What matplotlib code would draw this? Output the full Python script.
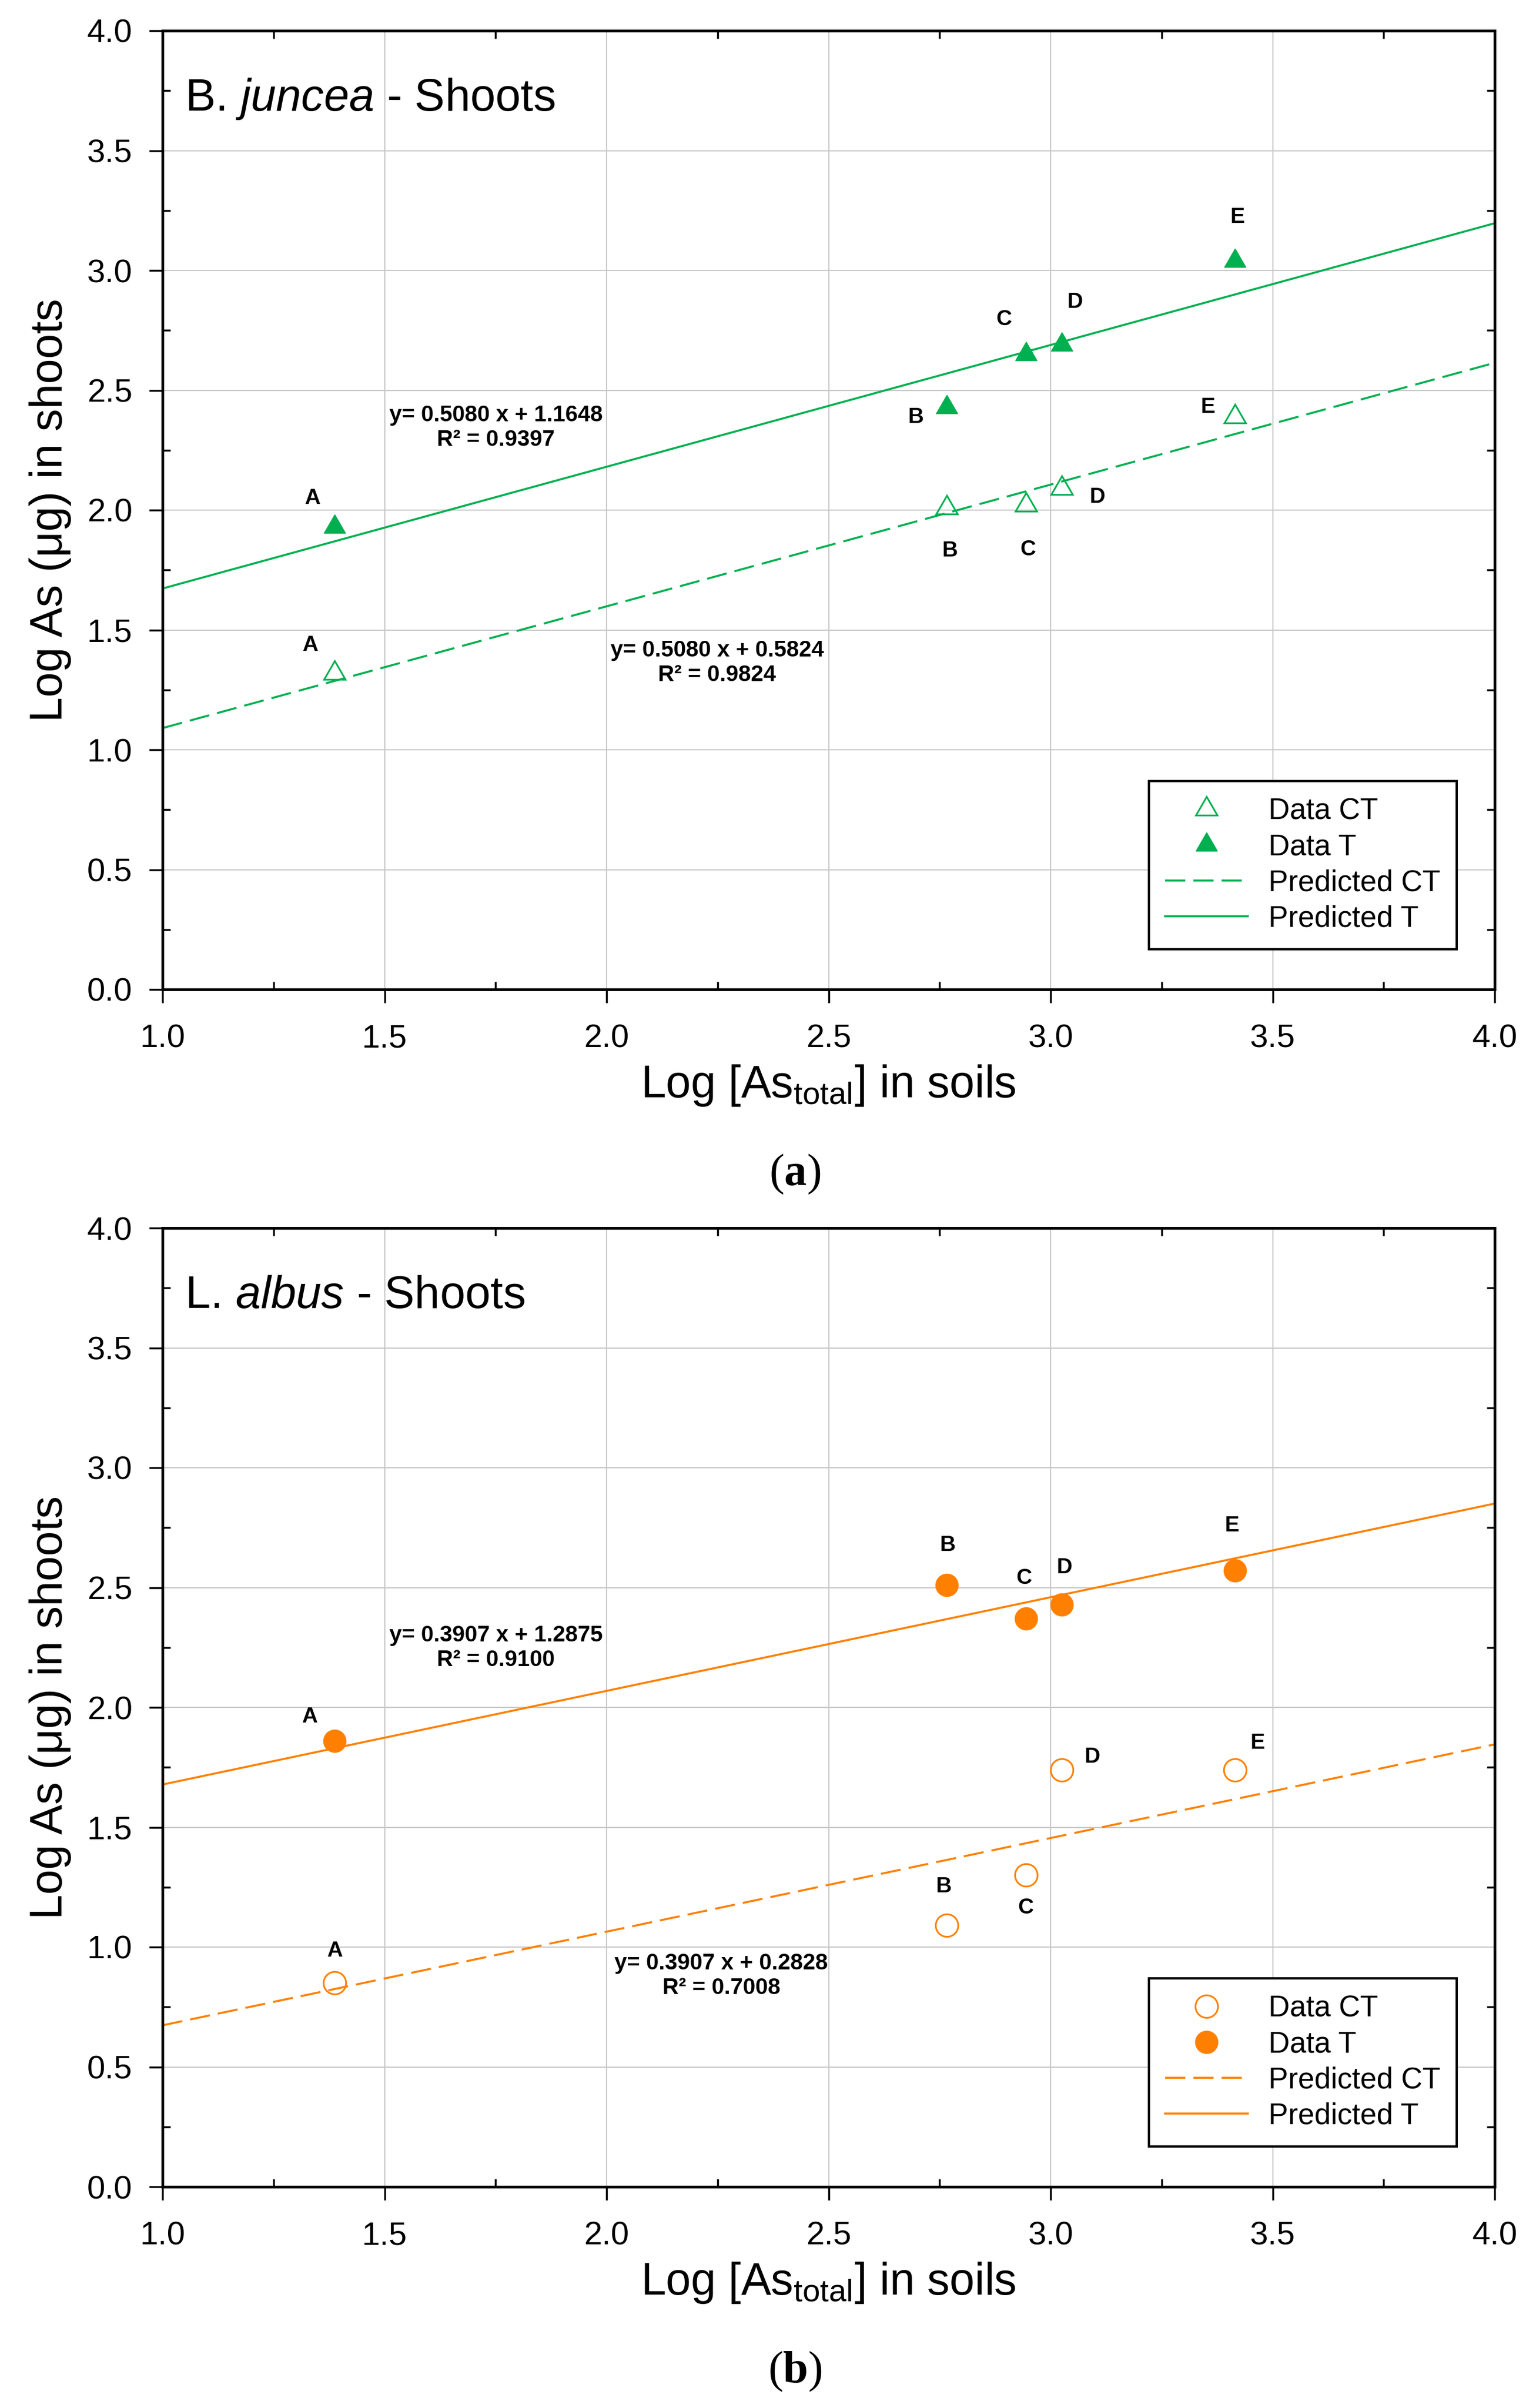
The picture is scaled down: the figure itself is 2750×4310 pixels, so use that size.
import matplotlib
matplotlib.use('Agg')
import matplotlib.pyplot as plt
from matplotlib.ticker import MultipleLocator, FormatStrFormatter
import numpy as np

plt.rcParams['font.family'] = ['Liberation Sans', 'DejaVu Sans']
plt.rcParams['mathtext.fontset'] = 'custom'
plt.rcParams['mathtext.rm'] = 'Liberation Sans'
plt.rcParams['mathtext.it'] = 'Liberation Sans:italic'
plt.rcParams['mathtext.bf'] = 'Liberation Serif:bold'

# ---------------- data ----------------
soil_log = [1.388, 2.766, 2.945, 3.025, 3.415]
site_labels = ['A', 'B', 'C', 'D', 'E']

bj_ct = [1.32, 2.01, 2.02, 2.09, 2.39]
bj_t = [1.93, 2.43, 2.65, 2.69, 3.04]
la_ct = [0.85, 1.09, 1.30, 1.74, 1.74]
la_t = [1.86, 2.51, 2.37, 2.43, 2.57]

bj_slope_t, bj_icpt_t, bj_r2_t = 0.5080, 1.1648, 0.9397
bj_slope_ct, bj_icpt_ct, bj_r2_ct = 0.5080, 0.5824, 0.9824
la_slope_t, la_icpt_t, la_r2_t = 0.3907, 1.2875, 0.9100
la_slope_ct, la_icpt_ct, la_r2_ct = 0.3907, 0.2828, 0.7008

legend_labels = ['Data CT', 'Data T', 'Predicted CT', 'Predicted T']

# label offsets (points) for point letters
bj_t_off = [(-29, 37), (-40, -13), (-29, 45), (17, 55), (3, 56)]
bj_ct_off = [(-32, 36), (4, -56), (2, -57), (46, -11), (-35, 12)]
la_t_off = [(-33, 31), (1, 51), (-3, 52), (3, 47), (-4, 58)]
la_ct_off = [(0, 41), (-4, 50), (-1, -42), (39, 16), (29, 34)]

GREEN = '#00B050'
ORANGE = '#FF8000'

W, H = 2750, 4310
fig = plt.figure(figsize=(W / 100, H / 100), dpi=100)

ax_left = 291 / W
ax_w = (2676 - 291) / W
ax_h = 1716 / H
ax_a = fig.add_axes([ax_left, 1 - 1771 / H, ax_w, ax_h])
ax_b = fig.add_axes([ax_left, 1 - 3914 / H, ax_w, ax_h])


def style_axes(ax):
    ax.set_xlim(1.0, 4.0)
    ax.set_ylim(0.0, 4.0)
    ax.xaxis.set_major_locator(MultipleLocator(0.5))
    ax.yaxis.set_major_locator(MultipleLocator(0.5))
    ax.xaxis.set_minor_locator(MultipleLocator(0.25))
    ax.yaxis.set_minor_locator(MultipleLocator(0.25))
    ax.xaxis.set_major_formatter(FormatStrFormatter('%.1f'))
    ax.yaxis.set_major_formatter(FormatStrFormatter('%.1f'))
    ax.set_axisbelow(True)
    ax.grid(True, which='major', color='#C8C8C8', linewidth=1.5)
    for s in ax.spines.values():
        s.set_linewidth(3.5)
    ax.tick_params(which='major', direction='out', length=17, width=2.5,
                   labelsize=42, top=False, right=False)
    ax.tick_params(axis='x', which='major', pad=27)
    ax.tick_params(axis='y', which='major', pad=22)
    ax.tick_params(which='minor', direction='in', length=10, width=2.5,
                   top=True, right=True, bottom=True, left=True)
    ax.set_xlabel(r'Log [As$_{\mathrm{total}}$] in soils', fontsize=58, labelpad=12)
    ax.set_ylabel('Log As (\u03bcg) in shoots', fontsize=58, labelpad=20)


def draw_panel(ax, ct, t, slope_ct, icpt_ct, r2_ct, slope_t, icpt_t, r2_t,
               color, marker, msize, ct_off, t_off, title, eq_t_pos, eq_ct_pos):
    style_axes(ax)
    xl = np.array([1.0, 4.0])
    l_ct, = ax.plot(xl, slope_ct * xl + icpt_ct, color=color, lw=2.6,
                    linestyle=(0, (10, 4)), zorder=2)
    l_t, = ax.plot(xl, slope_t * xl + icpt_t, color=color, lw=2.6, zorder=2)
    p_ct, = ax.plot(soil_log, ct, linestyle='none', marker=marker, markersize=msize,
                    markerfacecolor='none', markeredgecolor=color, markeredgewidth=2.2,
                    zorder=3)
    p_t, = ax.plot(soil_log, t, linestyle='none', marker=marker, markersize=msize,
                   markerfacecolor=color, markeredgecolor=color, markeredgewidth=1,
                   zorder=3)
    for x, y, lab, off in zip(soil_log, ct, site_labels, ct_off):
        ax.annotate(lab, (x, y), xytext=off, textcoords='offset points',
                    ha='center', va='center', fontsize=28, fontweight='bold')
    for x, y, lab, off in zip(soil_log, t, site_labels, t_off):
        ax.annotate(lab, (x, y), xytext=off, textcoords='offset points',
                    ha='center', va='center', fontsize=28, fontweight='bold')
    ax.text(eq_t_pos[0], eq_t_pos[1],
            'y= %.4f x + %.4f\nR\u00b2 = %.4f' % (slope_t, icpt_t, r2_t),
            ha='center', va='center', multialignment='center',
            fontsize=29, fontweight='bold', linespacing=1.2)
    ax.text(eq_ct_pos[0], eq_ct_pos[1],
            'y= %.4f x + %.4f\nR\u00b2 = %.4f' % (slope_ct, icpt_ct, r2_ct),
            ha='center', va='center', multialignment='center',
            fontsize=29, fontweight='bold', linespacing=1.2)
    ax.text(0.0168, 0.9167, title, transform=ax.transAxes, fontsize=58.5,
            va='baseline', ha='left')
    leg = ax.legend([p_ct, p_t, l_ct, l_t], legend_labels, loc='lower right',
                    bbox_to_anchor=(0.9715, 0.042), borderaxespad=0, fontsize=38,
                    frameon=True, fancybox=False, edgecolor='black', framealpha=1,
                    handlelength=2.8, handletextpad=0.7, labelspacing=0.27,
                    borderpad=0.55, numpoints=1)
    leg.get_frame().set_linewidth(3)


draw_panel(ax_a, bj_ct, bj_t, bj_slope_ct, bj_icpt_ct, bj_r2_ct,
           bj_slope_t, bj_icpt_t, bj_r2_t, GREEN, (3, 0, 0), 32,
           bj_ct_off, bj_t_off, r'B. $\mathit{juncea}$ - Shoots',
           (1.751, 2.345), (2.249, 1.364))
draw_panel(ax_b, la_ct, la_t, la_slope_ct, la_icpt_ct, la_r2_ct,
           la_slope_t, la_icpt_t, la_r2_t, ORANGE, 'o', 29,
           la_ct_off, la_t_off, r'L. $\mathit{albus}$ - Shoots',
           (1.751, 2.249), (2.258, 0.881))

fig.text(1423 / W, 1 - 2102 / H, r'($\mathbf{a}$)', family='Liberation Serif',
         fontsize=58, ha='center', va='center')
fig.text(1423 / W, 1 - 4245 / H, r'($\mathbf{b}$)', family='Liberation Serif',
         fontsize=58, ha='center', va='center')

fig.savefig('out.png', dpi=100)
